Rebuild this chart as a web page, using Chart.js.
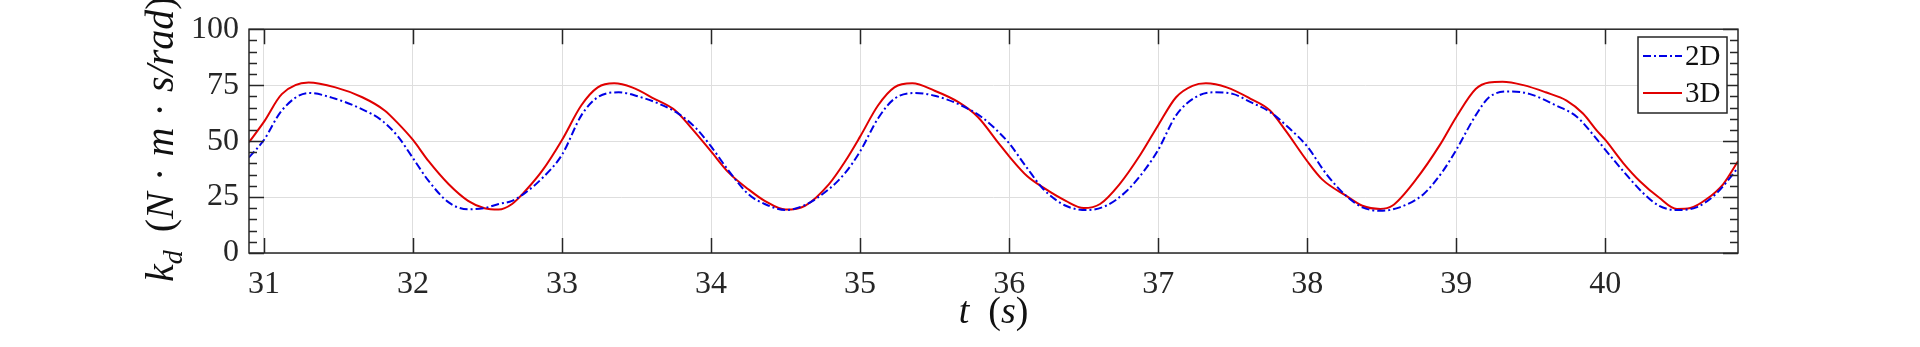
<!DOCTYPE html>
<html>
<head>
<meta charset="utf-8">
<script src="https://cdn.jsdelivr.net/npm/chart.js@4.4.0/dist/chart.umd.min.js"></script>
<style>
  html, body { margin: 0; padding: 0; background: #fff; }
</style>
</head>
<body>
<canvas id="myChart" width="1920" height="347"></canvas>
<script>
// Time samples and damping values
const t3D = [30.9, 31.0, 31.12, 31.3, 31.48, 31.66, 31.81, 31.9, 32.0, 32.105, 32.24, 32.37, 32.48, 32.575,
  32.665, 32.755, 32.87, 33.0, 33.13, 33.24, 33.35, 33.47, 33.62, 33.76, 33.87, 34.0, 34.12, 34.25,
  34.36, 34.5, 34.63, 34.79, 34.9, 35.0, 35.12, 35.23, 35.35, 35.5, 35.66, 35.79, 35.93, 36.0,
  36.12, 36.23, 36.38, 36.5, 36.61, 36.74, 36.88, 37.0, 37.12, 37.23, 37.32, 37.46, 37.62, 37.75,
  37.86, 38.0, 38.1, 38.26, 38.37, 38.49, 38.57, 38.73, 38.89, 39.0, 39.13, 39.22, 39.31, 39.45,
  39.6, 39.74, 39.85, 39.94, 40.0, 40.12, 40.23, 40.36, 40.48, 40.57, 40.68, 40.79, 40.89];
const k3D = [49.5, 58.6, 71, 76.2, 74, 69.6, 63.7, 57.9, 50.5, 41, 30.7, 23.3, 20, 19.4,
  21.9, 27.8, 37, 50.5, 66, 74, 75.8, 74, 68.9, 63.7, 55.7, 45.4, 35.8, 28.5,
  23.3, 19.4, 21.1, 30.7, 41, 52, 65.9, 74, 75.8, 72.5, 67.4, 60.8, 49, 43.2,
  34.4, 29.2, 23.3, 20.1, 21.9, 30.7, 43.9, 57.1, 69.6, 74.7, 75.8, 74, 68.9, 63.7,
  54.2, 41, 32.9, 25.6, 21.1, 19.7, 21.1, 32.9, 48.3, 60.8, 73.3, 76.2, 76.5, 75,
  71.8, 68.1, 62.3, 54.9, 50.5, 40.2, 32.2, 24.8, 19.7, 20.1, 24.1, 30.7, 41];

const t2D = [30.9, 31.0, 31.12, 31.3, 31.48, 31.66, 31.79, 31.9, 32.0, 32.105, 32.24, 32.37, 32.48, 32.575,
  32.665, 32.755, 32.87, 33.0, 33.13, 33.24, 33.38, 33.51, 33.65, 33.78, 33.9, 34.0, 34.12, 34.25,
  34.36, 34.5, 34.63, 34.79, 34.9, 35.0, 35.12, 35.23, 35.37, 35.5, 35.68, 35.82, 35.93, 36.0,
  36.12, 36.23, 36.38, 36.52, 36.65, 36.79, 36.92, 37.0, 37.12, 37.25, 37.37, 37.5, 37.62, 37.75,
  37.88, 38.0, 38.13, 38.26, 38.37, 38.49, 38.62, 38.78, 38.91, 39.0, 39.13, 39.22, 39.36, 39.49,
  39.67, 39.81, 39.92, 40.0, 40.12, 40.25, 40.36, 40.48, 40.61, 40.74, 40.89];
const k2D = [42.7, 50.5, 63.7, 71.5, 68.9, 64.2, 59.3, 52, 42.4, 32.2, 22.6, 19.5, 20.1, 21.9,
  23.3, 27, 33.6, 43.9, 61.5, 69.6, 71.8, 70, 66.7, 62.3, 55.7, 47.6, 36.6, 26.3,
  21.9, 19.2, 21.4, 28.5, 35.8, 45.4, 60.1, 68.9, 71.5, 70.3, 65.9, 60.5, 54, 49,
  38, 28.5, 21.1, 19.2, 21.1, 27.8, 38, 46.1, 61.5, 69.6, 71.8, 71.1, 67.4, 63,
  55.7, 47.6, 35.1, 25.6, 20.4, 18.9, 20.4, 26.3, 36.6, 46.1, 61.5, 69.6, 72.2, 71.1,
  65.9, 60.8, 52.7, 46.1, 36.6, 27, 21.1, 19.2, 20.4, 26.3, 38];

const xTicks = [31, 32, 33, 34, 35, 36, 37, 38, 39, 40];
const yTicks = [0, 25, 50, 75, 100];
const seriesNames = ['2D', '3D'];

const toPoints = (ts, ks) => ts.map((t, i) => ({ x: t, y: ks[i] }));
const axisColor = '#262626';
const serif = "'Liberation Serif', 'Times New Roman', Times, 'DejaVu Serif', serif";

// draws a run of text pieces (italic / subscript / em gaps) starting at x, baseline y
function drawRich(ctx, parts, size, x, y, measureOnly) {
  let cx = x;
  parts.forEach(p => {
    if (p.gap) { cx += p.gap * size; return; }
    const s = p.sub ? size * 0.7 : size;
    ctx.font = (p.it ? 'italic ' : '') + s + 'px ' + serif;
    if (!measureOnly) ctx.fillText(p.text, cx, p.sub ? y + size * 0.22 : y);
    cx += ctx.measureText(p.text).width;
  });
  return cx - x;
}

const yTitle = [
  { text: 'k', it: true }, { text: 'd', it: true, sub: true }, { gap: 0.45 },
  { text: '(' }, { text: 'N', it: true }, { gap: 0.28 }, { text: '\u00b7' }, { gap: 0.28 },
  { text: 'm', it: true }, { gap: 0.28 }, { text: '\u00b7' }, { gap: 0.28 },
  { text: 's/rad', it: true }, { text: ')' }
];
const xTitle = [{ text: 't', it: true }, { gap: 0.5 }, { text: '(' }, { text: 's', it: true }, { text: ')' }];

const framePlugin = {
  id: 'frame',
  afterDraw(chart) {
    const { ctx, chartArea: a, scales: { x, y } } = chart;
    ctx.save();
    ctx.strokeStyle = axisColor;
    ctx.lineWidth = 1.5;
    ctx.setLineDash([]);
    ctx.beginPath();
    xTicks.forEach(t => {
      const px = Math.round(x.getPixelForValue(t)) + 0.5;
      ctx.moveTo(px, a.bottom); ctx.lineTo(px, a.bottom - 15);
      ctx.moveTo(px, a.top); ctx.lineTo(px, a.top + 15);
    });
    for (let v = 0; v <= 100; v += 5) {
      const py = Math.round(y.getPixelForValue(v)) + 0.5;
      const len = v % 25 === 0 ? 15 : 8;
      ctx.moveTo(a.left, py); ctx.lineTo(a.left + len, py);
      ctx.moveTo(a.right, py); ctx.lineTo(a.right - len, py);
    }
    ctx.stroke();
    ctx.strokeRect(a.left, a.top, a.right - a.left, a.bottom - a.top);

    // legend box
    const lx = 1638, ly = 37, lw = 89, lh = 76;
    ctx.fillStyle = '#fff';
    ctx.fillRect(lx, ly, lw, lh);
    ctx.strokeRect(lx, ly, lw, lh);
    chart.data.datasets.forEach((ds, i) => {
      const ry = ly + 19 + i * 37;
      ctx.strokeStyle = ds.borderColor;
      ctx.lineWidth = ds.borderWidth;
      ctx.setLineDash(ds.borderDash || []);
      ctx.beginPath();
      ctx.moveTo(lx + 5, ry); ctx.lineTo(lx + 44, ry);
      ctx.stroke();
      ctx.setLineDash([]);
      ctx.fillStyle = '#111';
      ctx.font = '29px ' + serif;
      ctx.textBaseline = 'middle';
      ctx.fillText(ds.label, lx + 47, ry + 1);
    });

    // axis titles
    ctx.fillStyle = '#111';
    ctx.textBaseline = 'alphabetic';
    const xs = 38;
    const xw = drawRich(ctx, xTitle, xs, 0, 0, true);
    drawRich(ctx, xTitle, xs, (a.left + a.right) / 2 - xw / 2, 323);

    // y title starts just below the plot bottom and runs upward
    const ys = 40;
    ctx.translate(173, 282);
    ctx.rotate(-Math.PI / 2);
    drawRich(ctx, yTitle, ys, 0, 0);
    ctx.restore();
  }
};

const ctx = document.getElementById('myChart').getContext('2d');
const myChart = new Chart(ctx, {
  type: 'line',
  data: {
    datasets: [{
      label: seriesNames[0],
      data: toPoints(t2D, k2D),
      borderColor: '#0000e6',
      borderWidth: 2,
      borderDash: [8, 3, 2, 3],
      pointRadius: 0,
      cubicInterpolationMode: 'monotone',
      fill: false
    }, {
      label: seriesNames[1],
      data: toPoints(t3D, k3D),
      borderColor: '#e00000',
      borderWidth: 2,
      pointRadius: 0,
      cubicInterpolationMode: 'monotone',
      fill: false
    }]
  },
  options: {
    responsive: false,
    animation: false,
    layout: { padding: { top: 26, right: 182, bottom: 0, left: 0 } },
    plugins: { legend: { display: false }, tooltip: { enabled: false } },
    scales: {
      x: {
        type: 'linear',
        min: 30.9,
        max: 40.89,
        afterBuildTicks: s => { s.ticks = xTicks.map(v => ({ value: v })); },
        afterFit: s => { s.height = 94; },
        grid: { color: '#dedede', lineWidth: 1, drawTicks: false },
        border: { display: false },
        ticks: {
          color: axisColor,
          font: { family: serif, size: 32 },
          padding: 12,
          maxRotation: 0,
          callback: v => String(v)
        }
      },
      y: {
        min: 0,
        max: 100,
        afterBuildTicks: s => { s.ticks = yTicks.map(v => ({ value: v })); },
        afterFit: s => { s.width = 249; },
        grid: { color: '#dedede', lineWidth: 1, drawTicks: false },
        border: { display: false },
        ticks: {
          color: axisColor,
          font: { family: serif, size: 32 },
          padding: 10,
          callback: v => String(v)
        }
      }
    }
  },
  plugins: [framePlugin]
});
</script>
</body>
</html>
